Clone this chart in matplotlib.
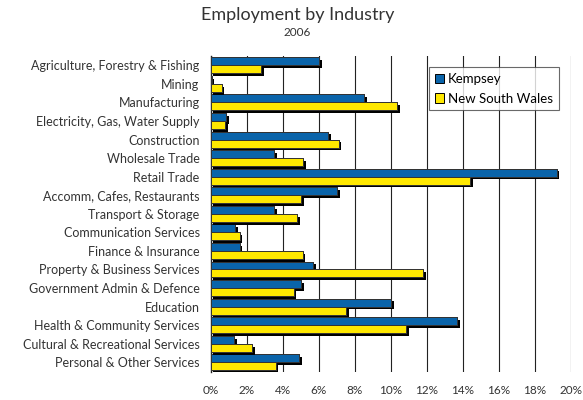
import matplotlib
matplotlib.use("Agg")
import matplotlib.pyplot as plt
import matplotlib.patheffects as pe
import numpy as np

categories = [
    "Agriculture, Forestry & Fishing",
    "Mining",
    "Manufacturing",
    "Electricity, Gas, Water Supply",
    "Construction",
    "Wholesale Trade",
    "Retail Trade",
    "Accomm, Cafes, Restaurants",
    "Transport & Storage",
    "Communication Services",
    "Finance & Insurance",
    "Property & Business Services",
    "Government Admin & Defence",
    "Education",
    "Health & Community Services",
    "Cultural & Recreational Services",
    "Personal & Other Services",
]
kempsey = [6.0, 0.05, 8.5, 0.85, 6.5, 3.5, 19.2, 7.0, 3.5, 1.35, 1.6, 5.7, 5.0, 10.0, 13.7, 1.3, 4.9]
nsw = [2.8, 0.6, 10.35, 0.8, 7.1, 5.15, 14.4, 5.0, 4.8, 1.6, 5.1, 11.8, 4.6, 7.5, 10.85, 2.3, 3.6]
xticks = [0, 2, 4, 6, 8, 10, 12, 14, 16, 18, 20]
xticklabels = [f"{t}%" for t in xticks]

plt.rcParams['font.family'] = ['Lato', 'DejaVu Sans']

fig = plt.figure(figsize=(5.83, 4.0), dpi=100)
ax = fig.add_axes([0.3614, 0.071, 0.6180, 0.789])

y = np.arange(len(categories))
h = 0.43
shadow = [pe.withSimplePatchShadow(offset=(2, -2), shadow_rgbFace='black', alpha=1.0), pe.Normal()]
b1 = ax.barh(y - h / 2, kempsey, height=h, color='#0A64AA', edgecolor='#333333', linewidth=0.7,
             label='Kempsey', zorder=3)
b2 = ax.barh(y + h / 2, nsw, height=h, color='#FFE800', edgecolor='#333333', linewidth=0.7,
             label='New South Wales', zorder=3)
for bar in list(b1) + list(b2):
    bar.set_path_effects(shadow)

ax.set_ylim(len(categories) - 0.5, -0.5)
ax.set_xlim(0, 20)
ax.set_yticks(y)
ax.set_yticklabels(categories, fontsize=9, color='#333333')
ax.set_xticks(xticks)
ax.set_xticklabels(xticklabels, fontsize=8.5, color='#333333')
ax.tick_params(axis='both', length=0)
ax.tick_params(axis='x', pad=10)
ax.tick_params(axis='y', pad=8)
ax.grid(axis='x', color='#222222', linewidth=0.8, zorder=0)
ax.set_axisbelow(True)
for s in ['top', 'right', 'bottom']:
    ax.spines[s].set_visible(False)
ax.spines['left'].set_color('#222222')
ax.spines['left'].set_linewidth(1.0)

leg = ax.legend(loc='upper right', bbox_to_anchor=(0.985, 0.985), fontsize=9.5, frameon=True,
                fancybox=False, edgecolor='#444444', handlelength=0.7, handleheight=0.7,
                handletextpad=0.3, borderpad=0.45, labelspacing=0.55)
leg.get_frame().set_linewidth(0.8)
for p in leg.get_patches():
    p.set_path_effects([])
    p.set_edgecolor('black')

fig.text(0.51, 0.963, "Employment by Industry", ha='center', va='center', fontsize=13,
         color='#333333')
fig.text(0.51, 0.918, "2006", ha='center', va='center', fontsize=8.5, color='#333333')

fig.savefig("out.png", dpi=100)
